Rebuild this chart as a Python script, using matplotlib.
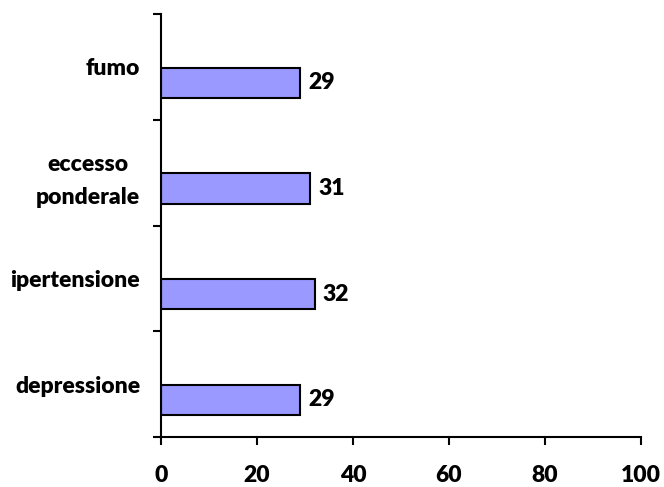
import matplotlib
matplotlib.use("Agg")
import matplotlib.pyplot as plt
import numpy as np

# data, bottom to top as drawn
categories = ["depressione", "ipertensione", "eccesso\nponderale", "fumo"]
values = [29, 32, 31, 29]
x_ticks = [0, 20, 40, 60, 80, 100]

BAR_COLOR = "#9999FF"
FS = 16.5
WEIGHT = "heavy"

plt.rcParams["font.family"] = ["Lato", "DejaVu Sans"]
plt.rcParams["font.weight"] = WEIGHT

fig = plt.figure(figsize=(6.64, 4.87), dpi=100)
ax = fig.add_axes([161 / 664, 1 - 437 / 487, 480 / 664, 423 / 487])

pos = np.arange(len(categories))
bar_h = 0.284
offset = 0.15  # bars sit in the lower half of each category slot
bars = ax.barh(pos - offset, values, height=bar_h, color=BAR_COLOR,
               edgecolor="black", linewidth=1.5)

for bar, val in zip(bars, values):
    ax.annotate(f"{val}", xy=(bar.get_width(), bar.get_y() + bar.get_height() / 2),
                xytext=(6, 0), textcoords="offset points",
                va="center", ha="left", fontsize=FS, fontweight=WEIGHT)

ax.set_xlim(0, 100)
ax.set_ylim(-0.5, len(categories) - 0.5)
ax.set_xticks(x_ticks)
ax.set_xticklabels([str(t) for t in x_ticks])

ax.set_yticks(pos)
ax.set_yticklabels(categories)
ax.set_yticks(np.arange(-0.5, len(categories)), minor=True)
for lab in ax.get_yticklabels():
    lab.set_multialignment("center")
    lab.set_linespacing(1.7)

ax.tick_params(axis="y", which="major", length=0, pad=15, labelsize=FS)
ax.tick_params(axis="y", which="minor", length=6, width=1.5, direction="out")
ax.tick_params(axis="x", length=6, width=1.5, direction="out", pad=14, labelsize=FS)

for side in ("top", "right"):
    ax.spines[side].set_visible(False)
for side in ("left", "bottom"):
    ax.spines[side].set_linewidth(1.5)
    ax.spines[side].set_color("black")

fig.savefig("out.png", dpi=100)
